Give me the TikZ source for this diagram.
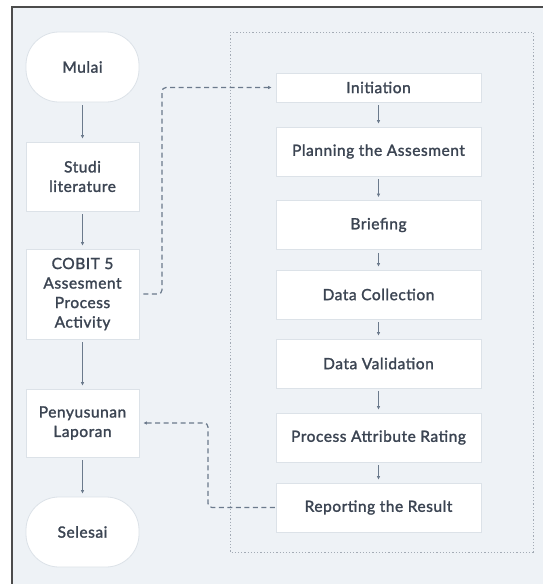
\documentclass[tikz,border=0pt]{standalone}
\usepackage{fontspec}
\setmainfont{Lato}[FakeBold=1.6, LetterSpace=3.5]
\usetikzlibrary{arrows.meta}

\definecolor{hgrund}{HTML}{EEF2F6}
\definecolor{rand}{HTML}{DCE2E8}
\definecolor{pfeil}{HTML}{6B7A8C}
\definecolor{schrift}{HTML}{3B4452}
\definecolor{punkte}{HTML}{A3ABB5}

\tikzset{
	kasten/.style={draw=rand, fill=white, line width=0.8pt, text=schrift,
		align=center, inner sep=0pt, font=\fontsize{15.5}{19.5}\selectfont},
	links/.style={kasten, minimum width=113pt, minimum height=69pt},
	oval/.style={links, minimum height=70pt, rounded corners=33pt},
	rechts/.style={kasten, minimum width=205pt, minimum height=49pt},
	fluss/.style={draw=pfeil, line width=1.1pt,
		-{Latex[length=3.5pt,width=3.5pt]}, shorten <=3pt, shorten >=3pt},
	rueck/.style={draw=pfeil, line width=1.2pt, dash pattern=on 5pt off 3.5pt,
		rounded corners=4pt, {Latex[length=3.5pt,width=3.5pt]}-, shorten <=4pt}
}

\begin{document}
\begin{tikzpicture}[x=1pt, y=-1pt]
	\useasboundingbox (0,0) rectangle (543,584);
	\clip (0,0) rectangle (543,584);
	% Rahmen
	\fill[hgrund] (12,7) rectangle (560,600);
	\draw[line width=1.6pt, color=black!70] (12,600) -- (12,7) -- (560,7);
	\draw[punkte, line width=0.9pt, dash pattern=on 1.2pt off 2pt]
		(230,32) rectangle (533,552);

	% linke Spalte
	\node[oval] (mulai) at (82.5,67) {Mulai};
	\node[links] (studi) at (82.5,176.5) {Studi\\literature};
	\node[links, minimum height=90pt] (cobit) at (82.5,294)
		{COBIT 5\\Assesment\\Process\\Activity};
	\node[links, minimum height=68pt] (laporan) at (82.5,423)
		{Penyusunan\\Laporan};
	\node[oval] (selesai) at (82.5,532) {Selesai};

	% rechte Spalte
	\node[rechts, minimum height=29pt] (init) at (378.5,87.5) {Initiation};
	\node[rechts] (plan) at (378.5,151.5) {Planning the Assesment};
	\node[rechts] (brief) at (378.5,225) {Briefing};
	\node[rechts] (collect) at (378.5,294.5) {Data Collection};
	\node[rechts] (valid) at (378.5,363.5) {Data Validation};
	\node[rechts] (rating) at (378.5,437.5) {Process Attribute Rating};
	\node[rechts] (report) at (378.5,507.5) {Reporting the Result};

	% Pfeile
	\foreach \a/\b in {mulai/studi, studi/cobit, cobit/laporan, laporan/selesai,
		init/plan, plan/brief, brief/collect, collect/valid, valid/rating,
		rating/report}
		\draw[fluss] (\a) -- (\b);

	% Rueckbezuege
	\draw[rueck, -{Latex[length=3.5pt,width=3.5pt]}, shorten >=4pt]
		(cobit.east) -- (162,294) -- (162,87.5) -- (init.west);
	\draw[rueck] (laporan.east) -- (208,423) -- (208,507.5) -- (report.west);
\end{tikzpicture}
\end{document}
